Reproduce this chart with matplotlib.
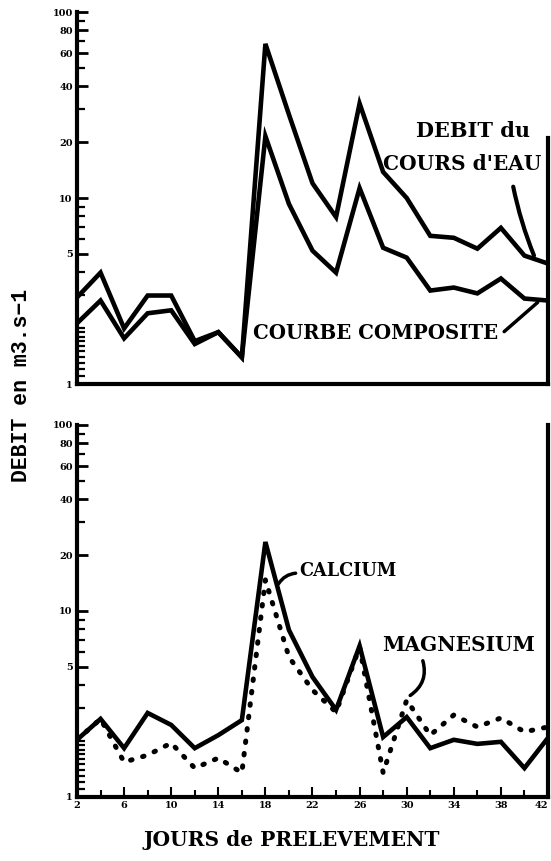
import numpy as np
import matplotlib
matplotlib.use('Agg')
import matplotlib.pyplot as plt
from matplotlib.ticker import FixedLocator, NullFormatter

# jours de prelevement
jours = [2, 4, 6, 8, 10, 12, 14, 16, 18, 20, 22, 24, 26, 28, 30, 32, 34, 36, 38, 40, 42]

# debit du cours d'eau et courbe composite (m3/s)
debit = [2.92, 3.97, 1.99, 2.99, 2.99, 1.70, 1.90, 1.39, 67.4, 28.1, 12.0,
         7.9, 32.2, 13.8, 10.0, 6.26, 6.11, 5.34, 6.91, 4.90, 4.44]
composite = [2.12, 2.81, 1.76, 2.40, 2.49, 1.64, 1.90, 1.39, 21.5, 9.29, 5.21,
             3.97, 11.3, 5.40, 4.78, 3.18, 3.30, 3.07, 3.69, 2.88, 2.81]

# debits calcules a partir du calcium et du magnesium
calcium = [2.03, 2.63, 1.83, 2.83, 2.44, 1.83, 2.15, 2.59, 23.5, 7.9, 4.42,
           2.94, 6.49, 2.10, 2.69, 1.83, 2.03, 1.93, 1.98, 1.43, 2.08]
magnesium = [2.03, 2.63, 1.54, 1.68, 1.95, 1.43, 1.62, 1.35, 14.7, 5.66, 3.76,
             2.86, 6.40, 1.35, 3.32, 2.15, 2.76, 2.38, 2.66, 2.24, 2.38]

y_major = [1, 5, 10, 20, 40, 60, 80, 100]
y_major_lab = ['1', '5', '10', '20', '40', '60', '80', '100']
y_minor = [1.1, 1.2, 1.3, 1.4, 1.5, 1.6, 1.7, 1.8, 1.9, 2, 3, 4, 6, 7, 8, 9,
           30, 50, 70, 90]
x_major = [2, 6, 10, 14, 18, 22, 26, 30, 34, 38, 42]
x_minor = [4, 8, 12, 16, 20, 24, 28, 32, 36, 40]

FONT = 'DejaVu Serif'

fig = plt.figure(figsize=(5.51, 8.61), dpi=100)
x0, x1 = 77 / 551, 548 / 551
ax1 = fig.add_axes([x0, 1 - 384 / 861, x1 - x0, (384 - 12) / 861])
ax2 = fig.add_axes([x0, 1 - 797 / 861, x1 - x0, (797 - 425) / 861])


def style_axis(ax):
    ax.set_yscale('log')
    ax.set_ylim(1, 100)
    ax.set_xlim(2, 42)
    ax.spines['top'].set_visible(False)
    for s in ['left', 'bottom', 'right']:
        ax.spines[s].set_linewidth(3)
    ax.yaxis.set_major_locator(FixedLocator(y_major))
    ax.yaxis.set_minor_locator(FixedLocator(y_minor))
    ax.set_yticklabels(y_major_lab, fontsize=7, fontweight='bold', family=FONT)
    ax.yaxis.set_minor_formatter(NullFormatter())
    ax.tick_params(axis='y', which='major', direction='in', length=8, width=2, pad=3)
    ax.tick_params(axis='y', which='minor', direction='in', length=6, width=1.6)


style_axis(ax1)
style_axis(ax2)

# panneau du haut : pas de graduations en x
ax1.set_xticks([])
ax1.spines['right'].set_bounds(1, 21)

ax1.plot(jours, debit, color='black', lw=3.3, solid_joinstyle='miter')
ax1.plot(jours, composite, color='black', lw=3.3, solid_joinstyle='miter')

ax1.text(35.6, 22.8, 'DEBIT du', ha='center', va='center', fontsize=15,
         fontweight='bold', family=FONT)
ax1.text(28.0, 15.2, "COURS d'EAU", ha='left', va='center', fontsize=14.5,
         fontweight='bold', family=FONT, clip_on=False)
ax1.annotate('', xy=(40.9, 4.75), xytext=(39.0, 11.9),
             arrowprops=dict(arrowstyle='-', lw=3, color='black',
                             connectionstyle='arc3,rad=0.05'))
ax1.text(16.95, 1.87, 'COURBE COMPOSITE', ha='left', va='center', fontsize=14.2,
         fontweight='bold', family=FONT)
ax1.annotate('', xy=(41.3, 2.81), xytext=(38.1, 1.87),
             arrowprops=dict(arrowstyle='-', lw=2.5, color='black'))

# panneau du bas
ax2.plot(jours, calcium, color='black', lw=3.3, solid_joinstyle='miter')
ax2.plot(jours, magnesium, color='black', lw=3.6, linestyle=(0, (0.3, 2.2)),
         dash_capstyle='round')

ax2.xaxis.set_major_locator(FixedLocator(x_major))
ax2.xaxis.set_minor_locator(FixedLocator(x_minor))
xlabs = ax2.set_xticklabels([str(v) for v in x_major], fontsize=7,
                            fontweight='bold', family=FONT)
xlabs[-1].set_horizontalalignment('right')
ax2.tick_params(axis='x', which='major', direction='in', length=7, width=1.5, pad=3)
ax2.tick_params(axis='x', which='minor', direction='in', length=5, width=1.5)

ax2.text(20.9, 16.4, 'CALCIUM', ha='left', va='center', fontsize=12.7,
         fontweight='bold', family=FONT)
ax2.annotate('', xy=(19.0, 13.6), xytext=(20.8, 16.0),
             arrowprops=dict(arrowstyle='-', lw=2.5, color='black',
                             connectionstyle='arc3,rad=0.3'))
ax2.text(27.9, 6.57, 'MAGNESIUM', ha='left', va='center', fontsize=14.5,
         fontweight='bold', family=FONT)
ax2.annotate('', xy=(30.1, 3.45), xytext=(31.3, 5.58),
             arrowprops=dict(arrowstyle='-', lw=2.5, color='black',
                             connectionstyle='arc3,rad=-0.4'))

fig.text(22 / 551, 1 - 385 / 861, 'DEBIT en m3.s\u22121', rotation=90,
         ha='center', va='center', fontsize=15.5, fontweight='bold',
         family='Liberation Mono')
fig.text(292 / 551, 1 - 840 / 861, 'JOURS de PRELEVEMENT', ha='center',
         va='center', fontsize=14.5, fontweight='bold', family=FONT)

fig.savefig('out.png', dpi=100)
